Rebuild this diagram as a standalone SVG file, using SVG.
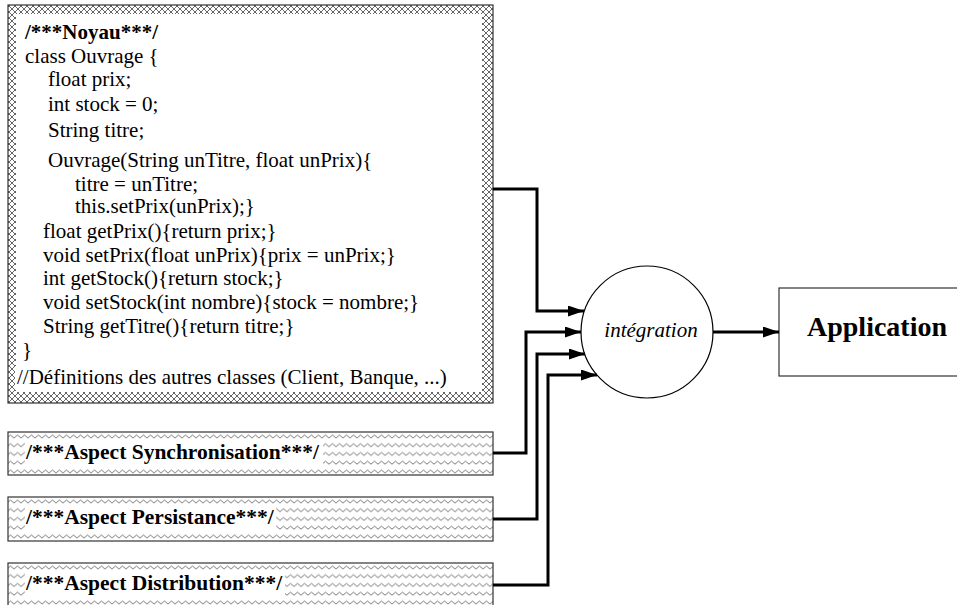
<svg xmlns="http://www.w3.org/2000/svg" width="957" height="605" viewBox="0 0 957 605">
<style>
  .code { font-family: "Liberation Serif", "Times New Roman", serif; font-size: 21px; fill: #000; }
  .bold { font-weight: bold; }
  .lbl { font-family: "Liberation Serif", "Times New Roman", serif; font-size: 21.5px; font-weight: bold; fill: #000; }
  .conn { fill: none; stroke: #000; stroke-width: 3; marker-end: url(#arr); }
  .frame { stroke: #333; stroke-width: 1.2; }
</style>
<defs>
  <pattern id="hatch" patternUnits="userSpaceOnUse" width="6" height="6">
    <rect width="6" height="6" fill="#fff"/>
    <path d="M0,3 L3,0 L6,3 L3,6 Z" fill="none" stroke="#555" stroke-width="0.9"/>
  </pattern>
  <pattern id="zig" patternUnits="userSpaceOnUse" width="7" height="8.75">
    <rect width="7" height="8.75" fill="#fff"/>
    <path d="M0,6 L3.5,3 L7,6" fill="none" stroke="#666" stroke-width="0.9"/>
  </pattern>
  <marker id="arr" markerUnits="userSpaceOnUse" markerWidth="16" markerHeight="11" refX="16" refY="5.5" orient="auto">
    <path d="M0,0 L16,5.5 L0,11 Z" fill="#000"/>
  </marker>
</defs>

<g id="noyau">
  <rect x="8" y="5" width="485" height="398" fill="url(#hatch)" class="frame"/>
  <rect x="16" y="14" width="466" height="378" fill="#fff"/>
  <rect x="15" y="366" width="460" height="24" fill="#fff"/>
  <text class="code bold" x="25" y="39">/***Noyau***/</text>
  <text class="code" x="25" y="63">class Ouvrage {</text>
  <text class="code" x="48" y="86">float prix;</text>
  <text class="code" x="48" y="111">int stock = 0;</text>
  <text class="code" x="48" y="137">String titre;</text>
  <text class="code" x="48" y="167">Ouvrage(String unTitre, float unPrix){</text>
  <text class="code" x="75" y="191">titre = unTitre;</text>
  <text class="code" x="75" y="213">this.setPrix(unPrix);}</text>
  <text class="code" x="43" y="238">float getPrix(){return prix;}</text>
  <text class="code" x="43" y="262">void setPrix(float unPrix){prix = unPrix;}</text>
  <text class="code" x="43" y="285">int getStock(){return stock;}</text>
  <text class="code" x="43" y="309">void setStock(int nombre){stock = nombre;}</text>
  <text class="code" x="43" y="333">String getTitre(){return titre;}</text>
  <text class="code" x="22" y="357">}</text>
  <text class="code" x="17" y="384">//Définitions des autres classes (Client, Banque, ...)</text>
</g>

<g id="sync" transform="translate(0,432)">
  <rect x="8" y="0" width="485" height="43" fill="url(#zig)" class="frame"/>
  <rect x="25" y="9" width="298" height="25" fill="#fff"/>
  <text class="lbl" x="26" y="27">/***Aspect Synchronisation***/</text>
</g>

<g id="persist" transform="translate(0,497)">
  <rect x="8" y="0" width="485" height="44" fill="url(#zig)" class="frame"/>
  <rect x="25" y="9" width="251" height="25" fill="#fff"/>
  <text class="lbl" x="26" y="27">/***Aspect Persistance***/</text>
</g>

<g id="distrib" transform="translate(0,563)">
  <rect x="8" y="0" width="485" height="43" fill="url(#zig)" class="frame"/>
  <rect x="25" y="9" width="260" height="25" fill="#fff"/>
  <text class="lbl" x="26" y="27">/***Aspect Distribution***/</text>
</g>

<g id="integration">
  <circle cx="647" cy="332" r="66" fill="#fff" stroke="#000" stroke-width="1.2"/>
  <text x="651" y="337" text-anchor="middle" font-family="Liberation Serif, Times New Roman, serif" font-size="21" font-style="italic">intégration</text>
</g>

<g id="application">
  <rect x="779" y="288" width="200" height="88" fill="#fff" class="frame"/>
  <text x="807" y="336" font-family="Liberation Serif, Times New Roman, serif" font-size="28" font-weight="bold">Application</text>
</g>

<g id="connectors">
  <path class="conn" d="M493,189 H537 V311 H584"/>
  <path class="conn" d="M493,453 H526 V332 H581"/>
  <path class="conn" d="M493,519 H537 V354 H585"/>
  <path class="conn" d="M493,585 H548 V375 H597"/>
  <path class="conn" d="M713,332 H779"/>
</g>
</svg>
